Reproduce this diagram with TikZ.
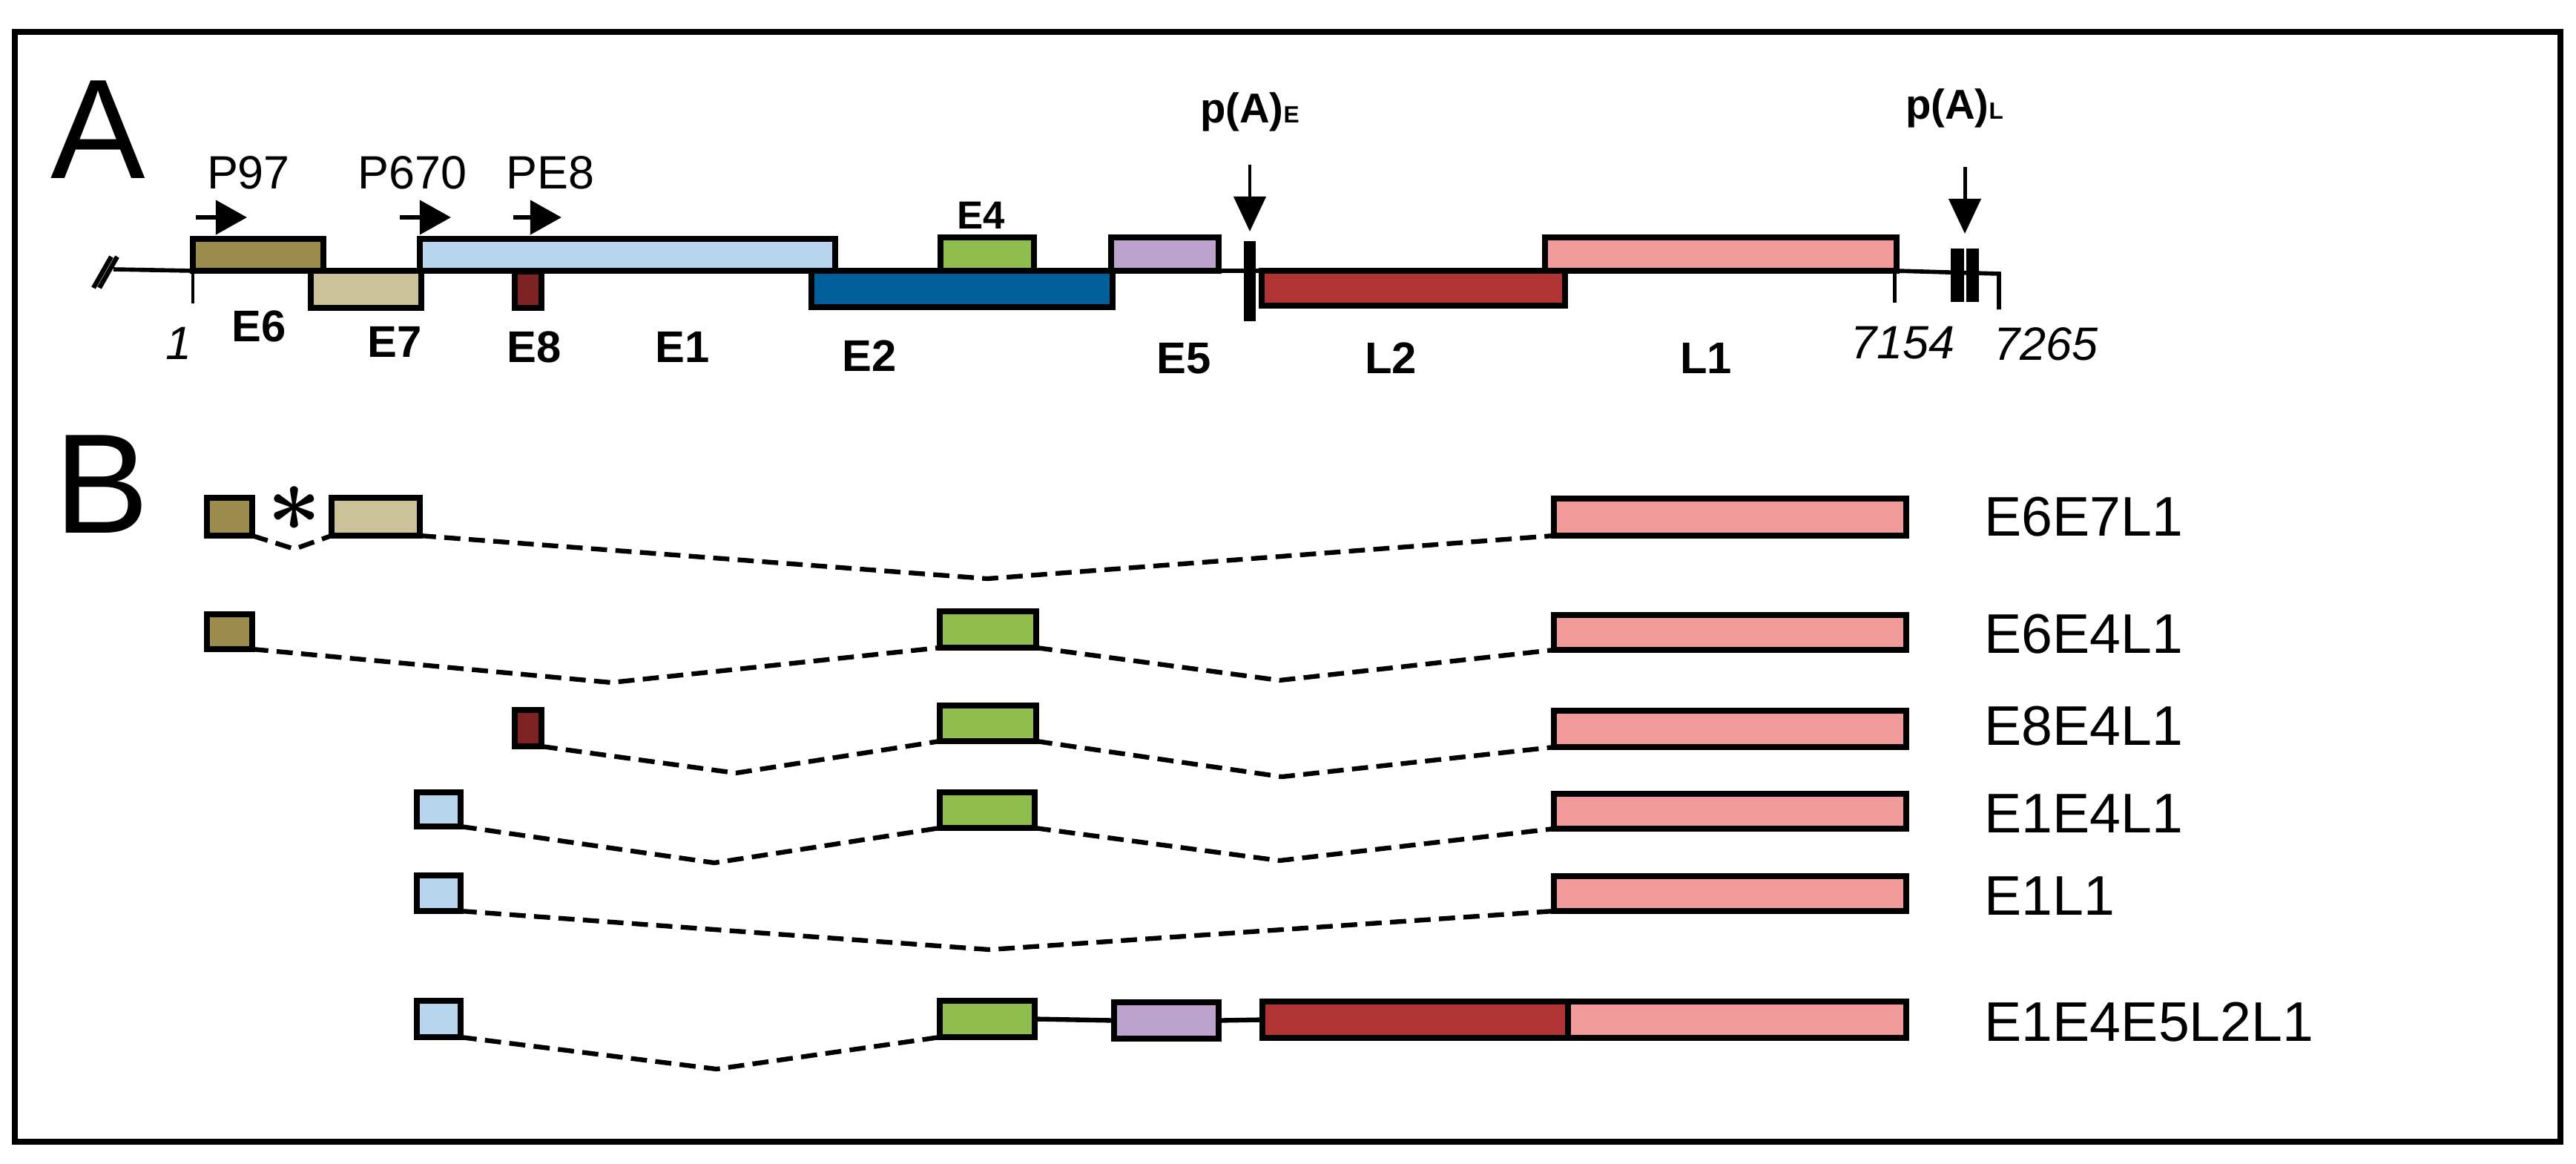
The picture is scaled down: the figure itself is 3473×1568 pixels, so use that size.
\documentclass[tikz,border=0pt]{standalone}
\usepackage{fontspec}
\setmainfont{Liberation Sans}
\usepackage{graphicx}
\usepackage{amsmath}
\usetikzlibrary{fit,arrows.meta}
\definecolor{cEsix}{RGB}{155,139,77}
\definecolor{cEseven}{RGB}{204,194,154}
\definecolor{cEone}{RGB}{185,213,237}
\definecolor{cEeight}{RGB}{125,35,35}
\definecolor{cEtwo}{RGB}{0,94,152}
\definecolor{cEfour}{RGB}{143,190,79}
\definecolor{cEfive}{RGB}{187,163,205}
\definecolor{cLtwo}{RGB}{176,52,52}
\definecolor{cLone}{RGB}{240,154,153}
\begin{document}
\begin{tikzpicture}[x=0.01cm,y=-0.01cm,
  exon/.style={draw, line width=2.1pt, inner sep=0pt, outer sep=0pt},
  conn/.style={line width=1.8pt, dash pattern=on 6.2pt off 3.2pt},
  solidconn/.style={line width=1.8pt},
  lab/.style={anchor=base, inner sep=0pt, font=\fontsize{17}{17}\selectfont\bfseries},
  smalllab/.style={anchor=base, inner sep=0pt, font=\fontsize{15}{15}\selectfont\bfseries},
  numlab/.style={anchor=base, inner sep=0pt, font=\fontsize{17.9}{17.9}\selectfont\itshape},
  prom/.style={anchor=base, inner sep=0pt, font=\fontsize{17.9}{17.9}\selectfont},
  palab/.style={anchor=base, inner sep=0pt, font=\fontsize{16}{16}\selectfont\bfseries},
  rowlab/.style={anchor=base west, inner sep=0pt, font=\fontsize{21.4}{21.4}\selectfont},
  panel/.style={anchor=base, inner sep=0pt, font=\fontsize{54.4}{54.4}\selectfont},
  promarrow/.style={line width=1.6pt, -{Triangle[length=12pt,width=13pt]}},
  paarrow/.style={line width=1.4pt, -{Triangle[length=13.4pt,width=12.2pt]}}
]
\useasboundingbox (0,0) rectangle (3473,1568);
\fill[white] (0,0) rectangle (3473,1568);
\draw[line width=2.2pt] (20,43) rectangle (3452,1539);

% ---------------- Panel A ----------------
\node[panel] (labA) at (132,240) {A};

% genome line
\draw[line width=1.6pt] (153,363) -- (260,365) -- (2557,365) -- (2695,369) -- (2695,417);
\draw[line width=1.8pt] (126,388) -- (150,346);
\draw[line width=1.8pt] (134,388) -- (158,346);
\draw[line width=1.4pt] (260,365) -- (260,409);
\draw[line width=1.4pt] (2554,365) -- (2554,408);

% exons
\node[exon, fill=cEsix,   fit={(260,322) (436,365)}] (aE6) {};
\node[exon, fill=cEseven, fit={(419,365) (568,415)}] (aE7) {};
\node[exon, fill=cEone,   fit={(566,322) (1126,365)}] (aE1) {};
\node[exon, fill=cEeight, fit={(694,366) (730,415)}] (aE8) {};
\node[exon, fill=cEtwo,   fit={(1094,365) (1500,414)}] (aE2) {};
\node[exon, fill=cEfour,  fit={(1268,320) (1394,365)}] (aE4) {};
\node[exon, fill=cEfive,  fit={(1498,320) (1643,365)}] (aE5) {};
\node[exon, fill=cLtwo,   fit={(1701,365) (2110,412)}] (aL2) {};
\node[exon, fill=cLone,   fit={(2083,320) (2557,365)}] (aL1) {};

% polyA signals
\fill (1677,325) rectangle (1693,433);
\fill (2630,335) rectangle (2648,407);
\fill (2651,335) rectangle (2668,407);
\coordinate (paEtop) at (1685,222);
\coordinate (paEtip) at (1685,312);
\coordinate (paLtop) at (2649,225);
\coordinate (paLtip) at (2649,315);
\draw[paarrow] (paEtop) -- (paEtip);
\draw[paarrow] (paLtop) -- (paLtip);
\node[palab] (tpaE) at (1685,165) {p(A){\fontsize{9}{9}\selectfont E}};
\node[palab] (tpaL) at (2635,160) {p(A){\fontsize{9}{9}\selectfont L}};

% promoters
\node[prom] (tP97) at (335,254) {P97};
\node[prom] (tP670) at (556,254) {P670};
\node[prom] (tPE8) at (742,254) {PE8};
\coordinate (p97s) at (264,293);  \coordinate (p97e) at (333,293);
\coordinate (p670s) at (539,293); \coordinate (p670e) at (608,293);
\coordinate (pe8s) at (692,293);  \coordinate (pe8e) at (757,293);
\draw[promarrow] (p97s) -- (p97e);
\draw[promarrow] (p670s) -- (p670e);
\draw[promarrow] (pe8s) -- (pe8e);

% labels
\node[numlab] (n1) at (241,484) {1};
\node[lab] (tE6) at (349,460) {E6};
\node[lab] (tE7) at (532,481) {E7};
\node[lab] (tE8) at (720,488) {E8};
\node[lab] (tE1) at (920,488) {E1};
\node[lab] (tE2) at (1172,500) {E2};
\node[smalllab] (tE4) at (1323,308) {E4};
\node[lab] (tE5) at (1596,503) {E5};
\node[lab] (tL2) at (1875,503) {L2};
\node[lab] (tL1) at (2300,503) {L1};
\node[numlab] (n7154) at (2565,483) {7154};
\node[numlab] (n7265) at (2758,485) {7265};

% ---------------- Panel B ----------------
\node[panel] (labB) at (137,718) {B};

% row 1: E6E7L1
\node[exon, fill=cEsix,   fit={(279,671) (340,722)}] (r1e6) {};
\node[exon, fill=cEseven, fit={(447,671) (566,722)}] (r1e7) {};
\node[exon, fill=cLone,   fit={(2095,672) (2570,722)}] (r1l1) {};
\node[inner sep=0pt] (ast) at (397,686) {\scalebox{3.6}{$\boldsymbol{\ast}$}};
\coordinate (v1a) at (397,740);
\coordinate (v1b) at (1331,780);
\draw[conn] (r1e6.south east) -- (v1a) -- (r1e7.south west);
\draw[conn] (r1e7.south east) -- (v1b) -- (r1l1.south west);
\node[rowlab] (l1) at (2675,722) {E6E7L1};

% row 2: E6E4L1
\node[exon, fill=cEsix,  fit={(279,828) (340,875)}] (r2e6) {};
\node[exon, fill=cEfour, fit={(1267,824) (1397,873)}] (r2e4) {};
\node[exon, fill=cLone,  fit={(2095,829) (2570,876)}] (r2l1) {};
\coordinate (v2a) at (824,920);
\coordinate (v2b) at (1725,917);
\draw[conn] (r2e6.south east) -- (v2a) -- (r2e4.south west);
\draw[conn] (r2e4.south east) -- (v2b) -- (r2l1.south west);
\node[rowlab] (l2) at (2675,880) {E6E4L1};

% row 3: E8E4L1
\node[exon, fill=cEeight, fit={(694,957) (730,1006)}] (r3e8) {};
\node[exon, fill=cEfour,  fit={(1267,951) (1397,999)}] (r3e4) {};
\node[exon, fill=cLone,   fit={(2095,958) (2570,1007)}] (r3l1) {};
\coordinate (v3a) at (992,1042);
\coordinate (v3b) at (1728,1047);
\draw[conn] (r3e8.south east) -- (v3a) -- (r3e4.south west);
\draw[conn] (r3e4.south east) -- (v3b) -- (r3l1.south west);
\node[rowlab] (l3) at (2675,1004) {E8E4L1};

% row 4: E1E4L1
\node[exon, fill=cEone,  fit={(562,1068) (621,1114)}] (r4e1) {};
\node[exon, fill=cEfour, fit={(1267,1068) (1395,1116)}] (r4e4) {};
\node[exon, fill=cLone,  fit={(2095,1070) (2570,1117)}] (r4l1) {};
\coordinate (v4a) at (963,1163);
\coordinate (v4b) at (1725,1160);
\draw[conn] (r4e1.south east) -- (v4a) -- (r4e4.south west);
\draw[conn] (r4e4.south east) -- (v4b) -- (r4l1.south west);
\node[rowlab] (l4) at (2675,1122) {E1E4L1};

% row 5: E1L1
\node[exon, fill=cEone, fit={(562,1180) (621,1228)}] (r5e1) {};
\node[exon, fill=cLone, fit={(2095,1181) (2570,1228)}] (r5l1) {};
\coordinate (v5) at (1334,1280);
\draw[conn] (r5e1.south east) -- (v5) -- (r5l1.south west);
\node[rowlab] (l5) at (2675,1233) {E1L1};

% row 6: E1E4E5L2L1
\node[exon, fill=cEone,  fit={(562,1349) (621,1398)}] (r6e1) {};
\node[exon, fill=cEfour, fit={(1267,1349) (1395,1398)}] (r6e4) {};
\node[exon, fill=cEfive, fit={(1502,1351) (1643,1400)}] (r6e5) {};
\node[exon, fill=cLtwo,  fit={(1702,1350) (2114,1399)}] (r6l2) {};
\node[exon, fill=cLone,  fit={(2114,1350) (2570,1399)}] (r6l1) {};
\coordinate (v6) at (966,1441);
\draw[conn] (r6e1.south east) -- (v6) -- (r6e4.south west);
\draw[solidconn] (r6e4.east) -- (r6e5.west);
\draw[solidconn] (r6e5.east) -- (r6l2.west);
\node[rowlab] (l6) at (2675,1403) {E1E4E5L2L1};
\end{tikzpicture}
\end{document}
